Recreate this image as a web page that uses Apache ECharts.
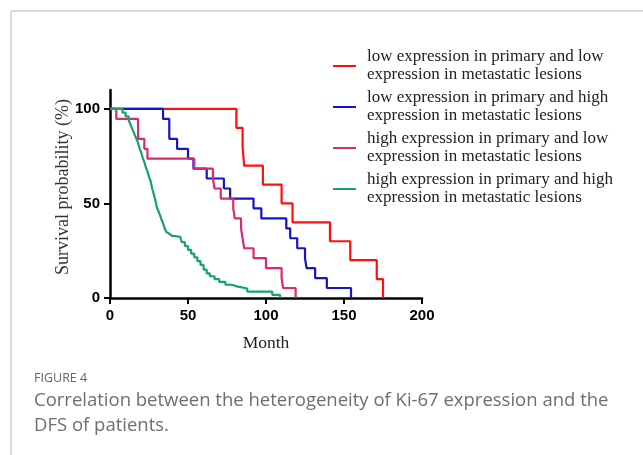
<!DOCTYPE html>
<html>
<head>
<meta charset="utf-8">
<script src="https://cdn.jsdelivr.net/npm/echarts@6/dist/echarts.min.js"></script>
<style>
  html, body { margin: 0; padding: 0; background: #fff; }
  #chart { width: 643px; height: 455px; }
</style>
</head>
<body>
<div id="chart"></div>
<script>
// survival curves: [month, survival %]
const lowLow = [[0, 100], [81, 90], [85, 80], [86, 70], [98, 60], [110, 50], [117, 40], [141, 30], [154, 20], [171, 10], [175, 0]]
const lowHigh = [[0, 100], [34, 94.7], [38, 84.2], [43, 78.9], [50, 73.7], [53.5, 68.4], [62, 63.2], [73, 57.9], [77, 52.6],
  [92, 47.4], [97, 42.1], [113, 36.8], [115.5, 31.6], [120, 26.3], [125, 21.1], [126, 15.8], [131.5, 10.5], [139, 5.3], [154.5, 0]]
const highLow = [[0, 100], [4, 94.7], [18, 84.2], [22, 78.9], [24, 73.7], [54, 68.4], [66, 63.2], [67, 57.9], [71, 52.6],
  [79, 47.4], [80, 42.1], [84, 36.8], [85, 31.6], [86, 26.3], [92, 21.1], [100, 15.8], [110, 10.5], [111, 5.3], [119, 0]]
const highHigh = [[0, 100], [8, 98], [10, 96], [12, 94], [13, 92], [14, 90], [15, 88], [16, 86], [17, 84], [18, 82], [19, 79],
  [20, 77], [21, 74], [22, 72], [23, 69], [24, 67], [25, 64], [26, 62], [27, 58], [28, 55], [29, 52], [30, 48], [31, 46],
  [32, 44], [33, 41.5], [34, 39.5], [35, 37], [36, 35], [37, 34], [38, 33], [39.5, 32.4], [45, 31.5], [46, 29.5], [48, 27.5],
  [50, 25.5], [52, 23.5], [54, 21.5], [56, 19.5], [58, 17.5], [60, 15], [62, 13], [64, 11.5], [67, 10], [70, 8.5], [74, 7],
  [78, 6], [82, 5], [88, 3.4], [104, 1.7], [109, 0]]

const seriesNames = [
  'low expression in primary and low\nexpression in metastatic lesions',
  'low expression in primary and high\nexpression in metastatic lesions',
  'high expression in primary and low\nexpression in metastatic lesions',
  'high expression in primary and high\nexpression in metastatic lesions'
]
const seriesData = [lowLow, lowHigh, highLow, highHigh]
const colors = ['#ff1010', '#1414c8', '#d92a72', '#17a070']

const xTicks = [0, 50, 100, 150, 200]
const yTicks = [0, 50, 100]

const chart = echarts.init(document.getElementById('chart'))

const options = {
  backgroundColor: '#fff',
  animation: false,
  color: colors,
  grid: {
    left: 110,
    top: 90,
    width: 312,
    height: 208,
    containLabel: false
  },
  legend: {
    data: seriesNames,
    orient: 'vertical',
    left: 333,
    top: 48,
    padding: 0,
    itemWidth: 23,
    itemHeight: 2,
    itemGap: 5,
    icon: 'rect',
    textStyle: {
      fontFamily: 'Liberation Serif',
      fontSize: 17,
      lineHeight: 18,
      color: '#222',
      padding: [0, 0, 0, 6]
    }
  },
  xAxis: {
    type: 'value',
    min: 0,
    max: 200,
    interval: 50,
    name: 'Month',
    nameLocation: 'middle',
    nameGap: 36,
    nameTextStyle: {
      fontFamily: 'Liberation Serif',
      fontSize: 17.5,
      color: '#222'
    },
    axisLine: { show: true, lineStyle: { color: '#000', width: 2.5 } },
    axisTick: { show: true, length: 6, lineStyle: { color: '#000', width: 2 }, customValues: xTicks },
    splitLine: { show: false },
    axisLabel: {
      customValues: xTicks,
      margin: 10,
      fontFamily: 'Liberation Sans',
      fontWeight: 'bold',
      fontSize: 15,
      color: '#000'
    }
  },
  yAxis: {
    type: 'value',
    min: 0,
    max: 110,
    axisLine: { show: true, lineStyle: { color: '#000', width: 2.5 } },
    axisTick: { show: true, length: 6, lineStyle: { color: '#000', width: 2 }, customValues: yTicks },
    splitLine: { show: false },
    axisLabel: {
      customValues: yTicks,
      margin: 10,
      fontFamily: 'Liberation Sans',
      fontWeight: 'bold',
      fontSize: 15,
      color: '#000'
    }
  },
  graphic: [
    // light frame of the figure panel
    { type: 'line', shape: { x1: 11, y1: 11, x2: 643, y2: 11 }, style: { stroke: '#cccccc', lineWidth: 1.5 } },
    { type: 'line', shape: { x1: 11, y1: 11, x2: 11, y2: 455 }, style: { stroke: '#cccccc', lineWidth: 1.5 } },
    {
      type: 'text', x: 63, y: 187, rotation: Math.PI / 2,
      style: {
        text: 'Survival probability (%)', font: '18px "Liberation Serif"', fill: '#333',
        align: 'center', verticalAlign: 'middle'
      }
    },
    {
      type: 'text', left: 34, top: 372,
      style: { text: 'FIGURE 4', font: '12.5px "Open Sans"', fill: '#666' }
    },
    {
      type: 'text', left: 34, top: 388,
      style: {
        text: 'Correlation between the heterogeneity of Ki-67 expression and the\nDFS of patients.',
        font: '18.5px "Open Sans"', lineHeight: 25, fill: '#6e6e6e'
      }
    }
  ],
  series: seriesData.map((d, i) => ({
    name: seriesNames[i],
    type: 'line',
    step: 'end',
    symbol: 'none',
    lineStyle: { width: 2.2, color: colors[i] },
    data: d
  }))
}

chart.setOption(options, true)
</script>
</body>
</html>
